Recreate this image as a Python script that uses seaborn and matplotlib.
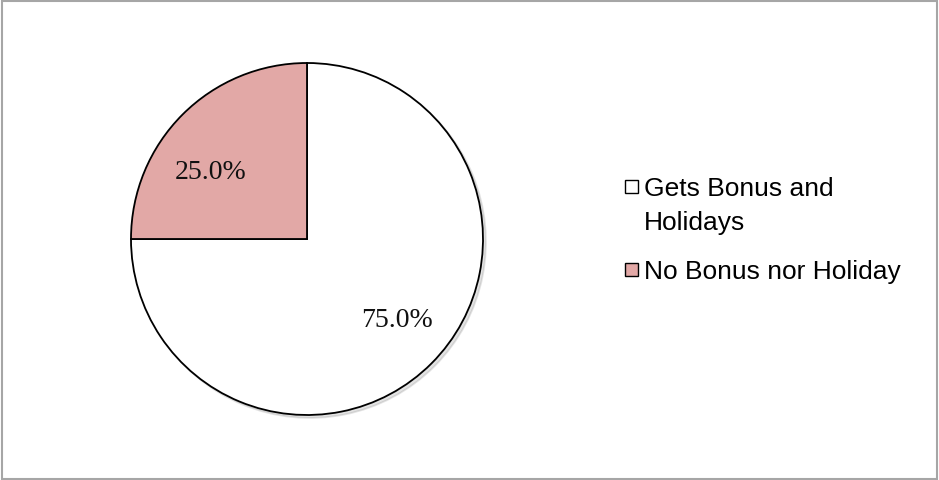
import matplotlib
matplotlib.use("Agg")
import matplotlib.pyplot as plt
from matplotlib.patches import Rectangle
import seaborn as sns

# Share of staff by benefit status
categories = ["Gets Bonus and\nHolidays", "No Bonus nor Holiday"]
shares = [75.0, 25.0]
slice_colors = ["#FFFFFF", "#E2A8A6"]

sns.set_style("white")
plt.rcParams["font.family"] = ["Liberation Sans", "DejaVu Sans"]

W, H = 939, 481
fig = plt.figure(figsize=(W / 100, H / 100), dpi=100)

# pie axes: centred at (307, 240) px with radius 176 px
cx, cy, r = 307, 240, 176
ax = fig.add_axes([(cx - r) / W, (H - cy - r) / H, 2 * r / W, 2 * r / H])
wedges, texts, autotexts = ax.pie(
    shares,
    colors=slice_colors,
    startangle=90,
    counterclock=False,
    autopct="%1.1f%%",
    pctdistance=0.68,
    radius=1.0,
    wedgeprops={"edgecolor": "black", "linewidth": 1.3},
    textprops={"family": ["Liberation Serif", "DejaVu Serif"], "fontsize": 20, "color": "#111111"},
    shadow={"ox": 0.012, "oy": -0.012, "alpha": 0.18, "shade": 0.6},
)
# nudge the percentage labels to their best-fit spots inside the slices
label_spots = [(0.51, -0.455), (-0.55, 0.385)]
for t, (x, y) in zip(autotexts, label_spots):
    t.set_position((x, y))
ax.set_xlim(-1, 1)
ax.set_ylim(-1, 1)
ax.set_aspect("equal")
ax.axis("off")

# legend: square swatch aligned with the first line of each label
legend_tops = [181, 264]
for label, color, top in zip(categories, slice_colors, legend_tops):
    fig.add_artist(Rectangle((625 / W, (H - top - 13) / H), 13 / W, 13 / H,
                             transform=fig.transFigure, facecolor=color,
                             edgecolor="black", linewidth=1.0))
    fig.text(644 / W, (H - top + 4) / H, label, ha="left", va="top",
             fontsize=19, color="black", linespacing=1.52)

# outer chart frame
fig.add_artist(Rectangle((2 / W, 1.5 / H), (W - 4.5) / W, (H - 3) / H,
                         transform=fig.transFigure, fill=False,
                         edgecolor="#A6A6A6", linewidth=1.5))

fig.savefig("out.png", dpi=100, facecolor="white")
